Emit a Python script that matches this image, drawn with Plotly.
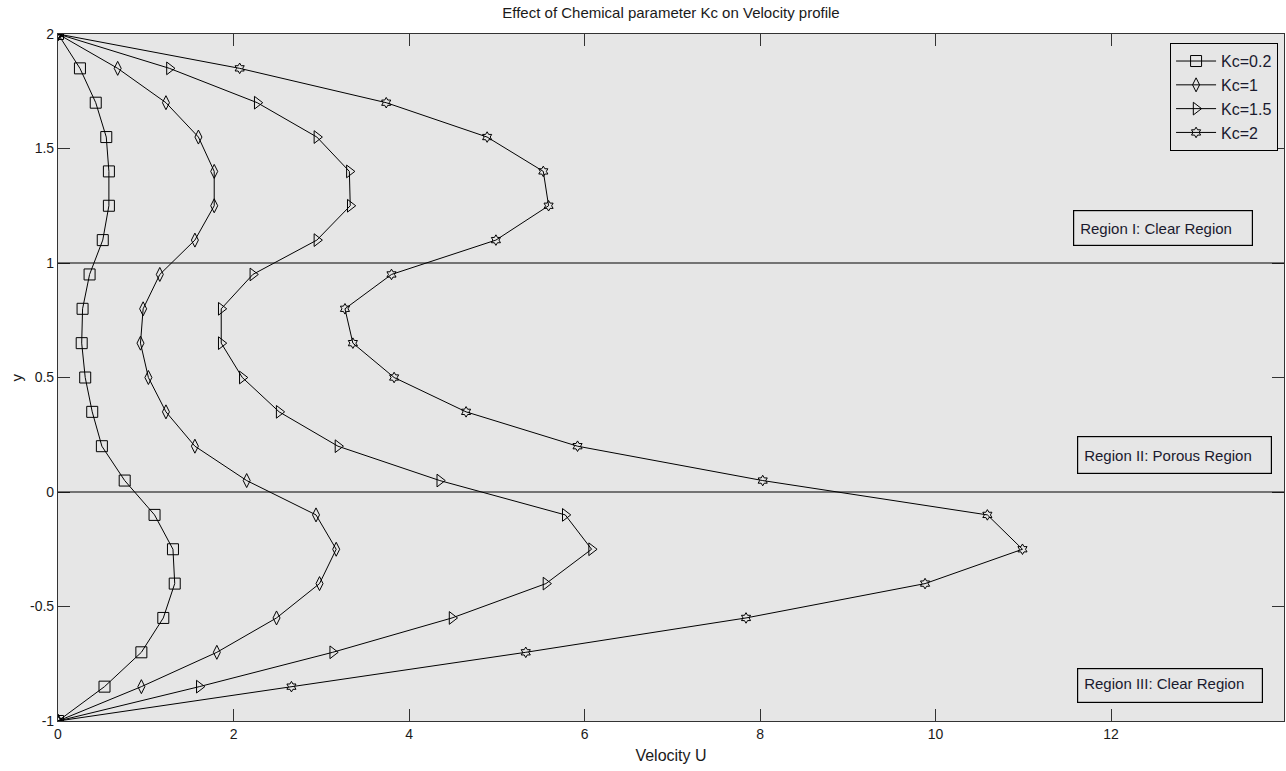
import plotly.graph_objects as go

y_vals = [2.0, 1.85, 1.7, 1.55, 1.4, 1.25, 1.1, 0.95, 0.8, 0.65, 0.5, 0.35, 0.2,
          0.05, -0.1, -0.25, -0.4, -0.55, -0.7, -0.85, -1.0]

u_kc02 = [0, 0.25, 0.43, 0.55, 0.58, 0.58, 0.51, 0.36, 0.28, 0.27, 0.31, 0.39, 0.50,
          0.76, 1.10, 1.31, 1.33, 1.20, 0.95, 0.53, 0]
u_kc1 = [0, 0.68, 1.23, 1.60, 1.78, 1.78, 1.56, 1.16, 0.97, 0.94, 1.03, 1.23, 1.56,
         2.15, 2.94, 3.17, 2.98, 2.49, 1.81, 0.95, 0]
u_kc15 = [0, 1.27, 2.27, 2.95, 3.32, 3.33, 2.95, 2.22, 1.86, 1.86, 2.10, 2.52, 3.19,
          4.35, 5.78, 6.08, 5.56, 4.49, 3.13, 1.61, 0]
u_kc2 = [0, 2.07, 3.74, 4.89, 5.53, 5.59, 4.99, 3.80, 3.27, 3.36, 3.83, 4.65, 5.92,
         8.03, 10.59, 10.99, 9.88, 7.84, 5.33, 2.66, 0]

series_names = ["Kc=0.2", "Kc=1", "Kc=1.5", "Kc=2"]
series_data = [u_kc02, u_kc1, u_kc15, u_kc2]
markers = [("square-open", 11), ("diamond-tall-open", 10),
           ("triangle-right-open", 11), ("hexagram-open", 8)]

region_labels = ["Region I: Clear Region", "Region II: Porous Region", "Region III: Clear Region"]
region_x = [11.57, 11.61, 11.61]
region_y = [1.232, 0.245, -0.769]
region_w = [166, 181, 172]
region_h = [22, 24, 21]
region_valign = ["middle", "middle", "top"]

x_ticks = [0, 2, 4, 6, 8, 10, 12]
y_ticks = [-1, -0.5, 0, 0.5, 1, 1.5, 2]
y_ticklabels = ["-1", "-0.5", "0", "0.5", "1", "1.5", "2"]

FONT = "Liberation Sans"

fig = go.Figure()

for name, data, (sym, sz) in zip(series_names, series_data, markers):
    fig.add_trace(go.Scatter(
        x=data, y=y_vals, name=name, mode="lines+markers",
        line=dict(color="black", width=1),
        marker=dict(symbol=sym, size=sz, color="black",
                    line=dict(color="black", width=1)),
    ))

# region boundary lines
for yb in [1, 0]:
    fig.add_shape(type="line", xref="paper", x0=0, x1=1, yref="y", y0=yb, y1=yb,
                  line=dict(color="black", width=1.2), layer="above")

for txt, xx, yy, w, h, va in zip(region_labels, region_x, region_y, region_w, region_h,
                                 region_valign):
    fig.add_annotation(x=xx, y=yy, xref="x", yref="y", text=txt, showarrow=False,
                       xanchor="left", yanchor="top", align="left", valign=va,
                       width=w, height=h, borderwidth=1.2, bordercolor="black",
                       borderpad=6, font=dict(family=FONT, size=15, color="#1a1a2e"))

# y-axis title
fig.add_annotation(x=0, y=0.5, xref="paper", yref="paper", xshift=-42, text="y",
                   showarrow=False, textangle=-90, xanchor="center", yanchor="middle",
                   font=dict(family=FONT, size=15, color="#1a1a1a"))

fig.update_layout(
    width=1286, height=771,
    paper_bgcolor="white", plot_bgcolor="#e6e6e6",
    margin=dict(l=58, r=2, t=34, b=50, autoexpand=False),
    title=dict(text="Effect of Chemical parameter Kc on Velocity profile",
               x=(58 + 1284) / 2 / 1286, xanchor="center", y=1 - 13 / 771, yanchor="middle",
               automargin=False,
               font=dict(family=FONT, size=15, color="#1a1a1a")),
    font=dict(family=FONT, size=14, color="#1a1a1a"),
    showlegend=True,
    legend=dict(x=0.995, xanchor="right", y=0.987, yanchor="top",
                bgcolor="#e6e6e6", bordercolor="black", borderwidth=1.2,
                font=dict(family=FONT, size=16, color="#1a1a2e"),
                tracegroupgap=0, itemwidth=40),
)

fig.update_xaxes(range=[0, 13.97], tickvals=x_ticks, ticks="inside", ticklen=12,
                 tickcolor="#333", showline=True, linecolor="#333", linewidth=1.2,
                 mirror="ticks", showgrid=False, zeroline=False, automargin=False,
                 title=dict(text="Velocity U", font=dict(family=FONT, size=16), standoff=8))
fig.update_yaxes(range=[-1, 2], tickvals=y_ticks, ticktext=y_ticklabels, ticks="inside",
                 ticklen=12, tickcolor="#333", showline=True, linecolor="#333", linewidth=1.2,
                 mirror="ticks", showgrid=False, zeroline=False, automargin=False)

fig.write_html("out.html", config={"displayModeBar": False},
               post_script="document.body.style.margin='0';document.body.style.overflow='hidden';")
